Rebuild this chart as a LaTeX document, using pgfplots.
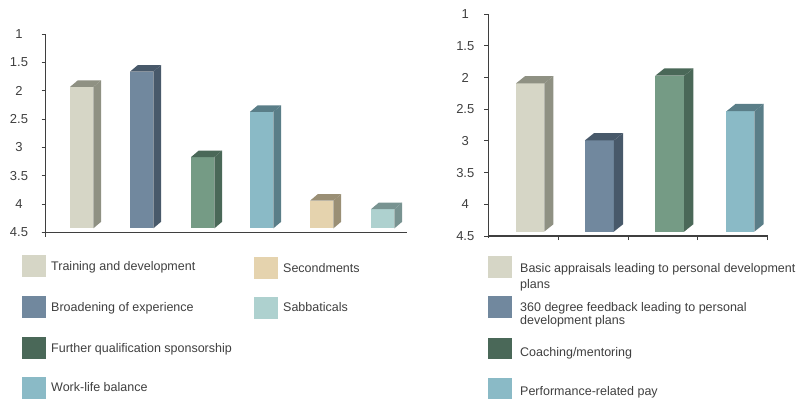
\documentclass[border=0pt]{standalone}
\usepackage{pgfplots}
\pgfplotsset{compat=1.18}
\usepackage{fontspec}
\setmainfont{Liberation Sans}
\definecolor{txt}{HTML}{3F3F3F}
\definecolor{trF}{HTML}{D6D6C6}\definecolor{trS}{HTML}{8F9183}
\definecolor{brF}{HTML}{71889E}\definecolor{brS}{HTML}{48596A}
\definecolor{fqF}{HTML}{759B85}\definecolor{fqS}{HTML}{4A6858}
\definecolor{wlF}{HTML}{8ABAC6}\definecolor{wlS}{HTML}{5A7E88}
\definecolor{seF}{HTML}{E5D3AE}\definecolor{seS}{HTML}{9A8F75}
\definecolor{saF}{HTML}{AED1CF}\definecolor{saS}{HTML}{789391}
\newcommand{\tbbase}{4.43}
\newcommand{\tbdy}{0.115}
% #1 left x, #2 value, #3 width, #4 depth dx, #5 front colour, #6 side colour
\newcommand{\tdbar}[6]{%
 \pgfmathsetmacro\tbR{#1+#3}%
 \pgfmathsetmacro\tbS{#1+#3+#4}%
 \pgfmathsetmacro\tbL{#1+#4}%
 \pgfmathsetmacro\tbVT{#2-\tbdy}%
 \pgfmathsetmacro\tbBT{\tbbase-\tbdy}%
 \addplot[fill=#5,draw=none] coordinates {(#1,\tbbase) (\tbR,\tbbase) (\tbR,#2) (#1,#2)};
 \addplot[fill=#6,draw=none] coordinates {(\tbR,\tbbase) (\tbS,\tbBT) (\tbS,\tbVT) (\tbR,#2)};
 \addplot[fill=#6,draw=none] coordinates {(#1,#2) (\tbR,#2) (\tbS,\tbVT) (\tbL,\tbVT)};
}
\pgfplotsset{myax/.style={
  scale only axis, anchor=north west,
  ymin=1, ymax=4.5, y dir=reverse,
  axis x line=bottom, axis y line=left,
  axis line style={-, draw=txt, line width=1.1pt},
  ytick={1,1.5,2,2.5,3,3.5,4,4.5},
  tick align=outside, major tick length=4pt,
  tick style={draw=txt, line width=1pt},
  /pgf/number format/assume math mode=true,
  yticklabel style={font=\fontsize{13}{15}\selectfont, text=txt, anchor=center},
  no markers, clip=false,
}}
\begin{document}
\begin{tikzpicture}
\path (0pt,0pt) rectangle (800pt,400pt);
% left panel
\begin{axis}[myax, at={(45.7pt,365.7pt)}, width=361.3pt, height=198pt,
  xmin=0, xmax=6, xtick=\empty,
  yticklabel style={xshift=-22.7pt}]
\tdbar{0.404}{1.93}{0.387}{0.128}{trF}{trS}
\tdbar{1.400}{1.66}{0.387}{0.128}{brF}{brS}
\tdbar{2.414}{3.17}{0.387}{0.128}{fqF}{fqS}
\tdbar{3.394}{2.37}{0.387}{0.128}{wlF}{wlS}
\tdbar{4.391}{3.94}{0.387}{0.128}{seF}{seS}
\tdbar{5.404}{4.09}{0.387}{0.128}{saF}{saS}
\end{axis}
% right panel
\begin{axis}[myax, at={(488.3pt,385.7pt)}, width=279.4pt, height=221.7pt,
  xmin=0, xmax=4, xtick={1,2,3,4}, xticklabels={,,,},
  yticklabel style={xshift=-19pt}]
\tdbar{0.397}{2.09}{0.405}{0.13}{trF}{trS}
\tdbar{1.384}{2.99}{0.415}{0.13}{brF}{brS}
\tdbar{2.390}{1.97}{0.415}{0.13}{fqF}{fqS}
\tdbar{3.410}{2.53}{0.40}{0.13}{wlF}{wlS}
\end{axis}
% axis line extensions
\draw[txt, line width=1.1pt] (45.7pt,167.7pt) -- (45.7pt,163.3pt);
\draw[txt, line width=1.1pt] (41.7pt,167.7pt) -- (45.7pt,167.7pt);
\draw[txt, line width=1.1pt] (488.3pt,164pt) -- (488.3pt,162.5pt);
% legends
\begin{scope}[x=1pt,y=1pt,every node/.style={font=\fontsize{12.5}{15}\selectfont, text=txt, inner sep=0pt, anchor=base west}]
\fill[trF] (22,145) rectangle (46,123.3);
\fill[brF] (22,104) rectangle (46,82.3);
\fill[fqS] (22,62.7) rectangle (46,41.3);
\fill[wlF] (22,22.7) rectangle (46,1.3);
\fill[seF] (254,142.7) rectangle (278,121.3);
\fill[saF] (254,102.7) rectangle (278,81.3);
\node at (51,130) {Training and development};
\node at (51,89) {Broadening of experience};
\node at (51,48) {Further qualification sponsorship};
\node at (51,8.3) {Work-life balance};
\node at (283,128) {Secondments};
\node at (283,89) {Sabbaticals};
\fill[trF] (488.3,144) rectangle (511.7,122.3);
\fill[brF] (488.3,104) rectangle (511.7,82.3);
\fill[fqS] (488.3,62.3) rectangle (511.7,40.7);
\fill[wlF] (488.3,22.3) rectangle (511.7,0.7);
\node at (520,127.7) {Basic appraisals leading to personal development};
\node at (520,111.7) {plans};
\node at (520,89) {360 degree feedback leading to personal};
\node at (520,75.7) {development plans};
\node at (520,44) {Coaching/mentoring};
\node at (520,4.3) {Performance-related pay};
\end{scope}
\pgfresetboundingbox
\path (0pt,0pt) rectangle (800pt,400pt);
\end{tikzpicture}
\end{document}
